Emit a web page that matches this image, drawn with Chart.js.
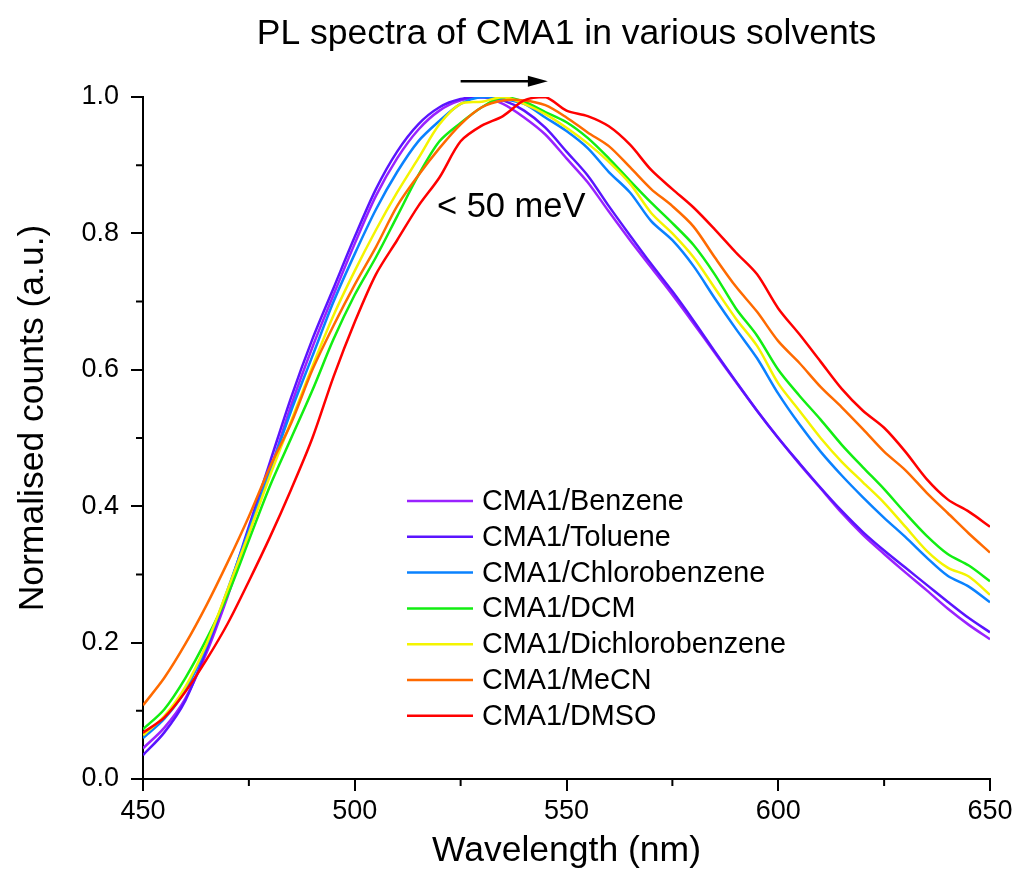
<!DOCTYPE html>
<html lang="en">
<head>
  <meta charset="UTF-8" />
  <title>PL spectra of CMA1</title>
  <script src="https://cdn.jsdelivr.net/npm/chart.js"></script>
  <style>
    body { margin: 0; background: #ffffff; }
    canvas { display: block; }
  </style>
</head>
<body>
  <canvas id="plChart" width="1019" height="886"></canvas>

  <script>
  // wavelength (nm) and normalised PL counts
  const wavelengths = [
    450, 455, 460, 465, 470, 475, 480, 485, 490, 495,
    500, 505, 510, 515, 520, 525, 530, 535, 540, 545,
    550, 555, 560, 565, 570, 575, 580, 585, 590, 595,
    600, 605, 610, 615, 620, 625, 630, 635, 640, 645, 650
  ];

  const benzene = [
    0.045, 0.075, 0.118, 0.185, 0.268, 0.36, 0.452, 0.548, 0.633, 0.71,
    0.785, 0.855, 0.91, 0.952, 0.98, 0.995, 1.0, 0.99, 0.97, 0.945,
    0.91, 0.875, 0.832, 0.79, 0.75, 0.71, 0.668, 0.625, 0.582, 0.54,
    0.5, 0.462, 0.426, 0.39, 0.358, 0.33, 0.303, 0.277, 0.25, 0.226, 0.205
  ];
  const toluene = [
    0.035, 0.068, 0.115, 0.19, 0.275, 0.37, 0.465, 0.56, 0.645, 0.72,
    0.795, 0.865, 0.92, 0.96, 0.985, 0.997, 1.0, 0.995, 0.98, 0.955,
    0.92, 0.885, 0.84, 0.797, 0.755, 0.715, 0.672, 0.627, 0.583, 0.54,
    0.5, 0.463, 0.427, 0.393, 0.362, 0.335, 0.31, 0.285, 0.26, 0.236, 0.215
  ];
  const chlorobenzene = [
    0.06, 0.088, 0.13, 0.195, 0.278, 0.365, 0.452, 0.54, 0.62, 0.70,
    0.77, 0.835, 0.89, 0.935, 0.965, 0.99, 1.0, 0.997, 0.99, 0.97,
    0.95, 0.925, 0.89, 0.86, 0.818, 0.79, 0.752, 0.705, 0.66, 0.617,
    0.565, 0.52, 0.48, 0.445, 0.413, 0.383, 0.355, 0.325, 0.298, 0.282, 0.259
  ];
  const dcm = [
    0.073, 0.102, 0.148, 0.205, 0.27, 0.35, 0.43, 0.50, 0.57, 0.645,
    0.71, 0.765, 0.825, 0.885, 0.935, 0.962, 0.985, 1.0, 0.993, 0.978,
    0.963, 0.94, 0.91, 0.877, 0.845, 0.815, 0.783, 0.74, 0.69, 0.65,
    0.60, 0.562, 0.527, 0.49, 0.457, 0.425, 0.39, 0.357, 0.33, 0.313, 0.29
  ];
  const dichlorobenzene = [
    0.064, 0.092, 0.135, 0.198, 0.278, 0.36, 0.445, 0.525, 0.605, 0.68,
    0.745, 0.805, 0.86, 0.91, 0.96, 0.99, 0.993, 1.0, 0.99, 0.975,
    0.955, 0.932, 0.905, 0.873, 0.83, 0.80, 0.765, 0.72, 0.675, 0.635,
    0.58, 0.54, 0.50, 0.465, 0.435, 0.405, 0.37, 0.335, 0.31, 0.297, 0.27
  ];
  const mecn = [
    0.108, 0.148, 0.198, 0.255, 0.318, 0.385, 0.458, 0.522, 0.60, 0.665,
    0.725, 0.78, 0.84, 0.885, 0.925, 0.96, 0.985, 0.995, 0.995, 0.988,
    0.97, 0.948, 0.928, 0.897, 0.865, 0.84, 0.81, 0.765, 0.722, 0.685,
    0.642, 0.61, 0.575, 0.545, 0.513, 0.48, 0.453, 0.42, 0.39, 0.36, 0.332
  ];
  const dmso = [
    0.068, 0.09, 0.128, 0.175, 0.228, 0.29, 0.355, 0.425, 0.50, 0.59,
    0.67, 0.74, 0.79, 0.84, 0.882, 0.935, 0.958, 0.972, 0.995, 1.0,
    0.98, 0.972, 0.957, 0.93, 0.893, 0.865, 0.838, 0.806, 0.772, 0.74,
    0.69, 0.652, 0.612, 0.572, 0.54, 0.515, 0.48, 0.44, 0.41, 0.392, 0.37
  ];

  const seriesLabels = [
    'CMA1/Benzene', 'CMA1/Toluene', 'CMA1/Chlorobenzene', 'CMA1/DCM',
    'CMA1/Dichlorobenzene', 'CMA1/MeCN', 'CMA1/DMSO'
  ];
  const seriesColors = ['#9a22ff', '#5a14ff', '#0a82ff', '#12ee12', '#f4f400', '#ff6a00', '#ff0000'];
  const seriesValues = [benzene, toluene, chlorobenzene, dcm, dichlorobenzene, mecn, dmso];

  const xTicksMinor = [475, 525, 575, 625];
  const yTicksMinor = [0.1, 0.3, 0.5, 0.7, 0.9];

  const FONT = "'Liberation Sans', Arial, sans-serif";

  const datasets = seriesLabels.map((label, i) => ({
    label: label,
    data: wavelengths.map((w, j) => ({ x: w, y: seriesValues[i][j] })),
    borderColor: seriesColors[i],
    backgroundColor: seriesColors[i],
    borderWidth: 2.5,
    pointRadius: 0,
    tension: 0.3,
    fill: false,
    order: seriesLabels.length - i   // DMSO drawn on top
  }));

  // title, y-axis title, minor ticks, legend, arrow and label
  const extras = {
    id: 'extras',
    afterDraw(chart) {
      const { ctx, chartArea, scales: { x, y } } = chart;
      ctx.save();

      // main title
      ctx.fillStyle = '#000';
      ctx.font = '35.5px ' + FONT;
      ctx.textAlign = 'center';
      ctx.textBaseline = 'alphabetic';
      ctx.fillText('PL spectra of CMA1 in various solvents', (chartArea.left + chartArea.right) / 2, 44);

      // y-axis title
      ctx.save();
      ctx.translate(33, 418);
      ctx.rotate(-Math.PI / 2);
      ctx.font = '35.5px ' + FONT;
      ctx.textBaseline = 'middle';
      ctx.fillText('Normalised counts (a.u.)', 0, 0);
      ctx.restore();

      // minor ticks
      ctx.strokeStyle = '#000';
      ctx.lineWidth = 2;
      ctx.beginPath();
      xTicksMinor.forEach(v => {
        const px = x.getPixelForValue(v);
        ctx.moveTo(px, chartArea.bottom);
        ctx.lineTo(px, chartArea.bottom + 7);
      });
      yTicksMinor.forEach(v => {
        const py = y.getPixelForValue(v);
        ctx.moveTo(chartArea.left, py);
        ctx.lineTo(chartArea.left - 7, py);
      });
      ctx.stroke();

      // legend inside the plot
      ctx.font = '28.8px ' + FONT;
      ctx.textAlign = 'left';
      ctx.textBaseline = 'middle';
      chart.data.datasets.forEach((ds, i) => {
        const rowY = 501 + i * 35.8;
        ctx.strokeStyle = ds.borderColor;
        ctx.lineWidth = 2.5;
        ctx.beginPath();
        ctx.moveTo(407, rowY);
        ctx.lineTo(473, rowY);
        ctx.stroke();
        ctx.fillStyle = '#000';
        ctx.fillText(ds.label, 482, rowY + 1);
      });

      // shift arrow
      const ay = y.getPixelForValue(1.023);
      const ax0 = x.getPixelForValue(525);
      const ax1 = x.getPixelForValue(545.6);
      ctx.strokeStyle = '#000';
      ctx.fillStyle = '#000';
      ctx.lineWidth = 2.5;
      ctx.beginPath();
      ctx.moveTo(ax0, ay);
      ctx.lineTo(ax1 - 18, ay);
      ctx.stroke();
      ctx.beginPath();
      ctx.moveTo(ax1, ay);
      ctx.lineTo(ax1 - 20, ay - 5.5);
      ctx.lineTo(ax1 - 20, ay + 5.5);
      ctx.closePath();
      ctx.fill();

      ctx.font = '34.5px ' + FONT;
      ctx.textAlign = 'left';
      ctx.textBaseline = 'alphabetic';
      ctx.fillText('< 50 meV', x.getPixelForValue(519.4), y.getPixelForValue(0.8246));

      ctx.restore();
    }
  };

  new Chart(document.getElementById('plChart').getContext('2d'), {
    type: 'line',
    data: { datasets: datasets },
    options: {
      responsive: false,
      animation: false,
      layout: { padding: { left: 0, top: 97, right: 29, bottom: 0 } },
      plugins: {
        legend: { display: false },
        title: { display: false },
        tooltip: { enabled: false }
      },
      scales: {
        x: {
          type: 'linear',
          min: 450,
          max: 650,
          afterFit(scale) { scale.height = 107; },
          border: { display: true, color: '#000', width: 2 },
          grid: { drawOnChartArea: false, drawTicks: true, tickLength: 12, color: '#000', lineWidth: 2 },
          ticks: {
            stepSize: 50,
            padding: 4,
            color: '#000',
            font: { family: FONT, size: 27 },
            maxRotation: 0
          },
          title: {
            display: true,
            text: 'Wavelength (nm)',
            color: '#000',
            font: { family: FONT, size: 35.5 },
            padding: { top: 0, bottom: 13 }
          }
        },
        y: {
          type: 'linear',
          min: 0,
          max: 1,
          afterFit(scale) { scale.width = 143; },
          border: { display: true, color: '#000', width: 2 },
          grid: { drawOnChartArea: false, drawTicks: true, tickLength: 12, color: '#000', lineWidth: 2 },
          ticks: {
            stepSize: 0.2,
            padding: 12,
            color: '#000',
            font: { family: FONT, size: 27 },
            callback: v => v.toFixed(1)
          }
        }
      }
    },
    plugins: [extras]
  });
  </script>
</body>
</html>
